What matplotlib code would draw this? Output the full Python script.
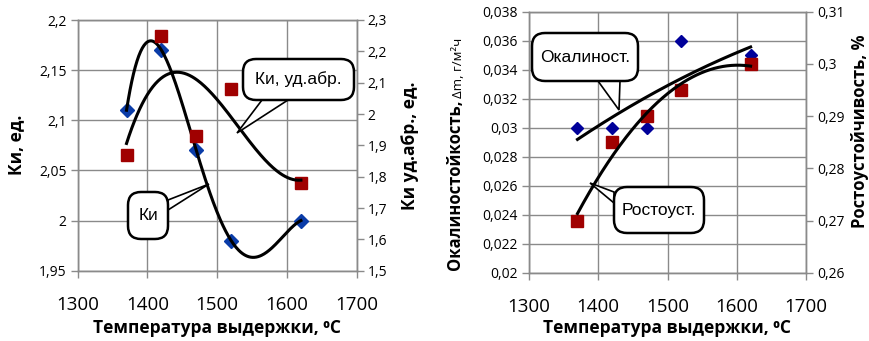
import numpy as np
import matplotlib
matplotlib.use('Agg')
import matplotlib.pyplot as plt
from matplotlib.patches import FancyBboxPatch, Polygon

plt.rcParams['font.family'] = ['Open Sans', 'DejaVu Sans']

# holding temperature, deg C
temp = [1370, 1420, 1470, 1520, 1620]

# left chart: Ki (left axis) and specific abrasive Ki (right axis)
ki = [2.11, 2.17, 2.07, 1.98, 2.00]
ki_abr = [1.87, 2.25, 1.93, 2.08, 1.78]

# right chart: scale resistance (left axis) and growth resistance (right axis)
scale_res = [0.030, 0.030, 0.030, 0.036, 0.035]
growth_res = [0.270, 0.285, 0.290, 0.295, 0.300]

W, H = 869, 341
BLUE = '#0a3ca8'
NAVY = '#00009a'
RED = '#a00000'
GRID = '#8a8a8a'

fig = plt.figure(figsize=(W / 100, H / 100), dpi=100)


def px(x, y):
    return x / W, 1 - y / H


def make_axes(x0, x1, ytop, ybot):
    l, t = px(x0, ytop)
    r, b = px(x1, ybot)
    ax = fig.add_axes([l, b, r - l, t - b])
    ax2 = ax.twinx()
    for a in (ax, ax2):
        for s in a.spines.values():
            s.set_color(GRID)
            s.set_linewidth(1.0)
        a.tick_params(direction='out', length=5, color=GRID, width=1)
    ax.tick_params(axis='y', labelsize=10, pad=3)
    ax2.tick_params(axis='y', labelsize=10, pad=3)
    ax.tick_params(axis='x', labelsize=13.5, pad=13)
    ax.grid(True, color=GRID, linewidth=1.0)
    ax.set_axisbelow(True)
    ax.set_xlim(1300, 1700)
    ax.set_xticks([1300, 1400, 1500, 1600, 1700])
    return ax, ax2


def comma(ndig):
    return matplotlib.ticker.FuncFormatter(
        lambda v, p: ('%.*f' % (ndig, v)).rstrip('0').rstrip('.').replace('.', ','))


def trend(x, y, deg, n=200):
    c = np.polyfit(x, y, deg)
    xs = np.linspace(min(x), max(x), n)
    return xs, np.polyval(c, xs)


def callout(box, base, tip, text, size=12.5):
    x0, y0, x1, y1 = box
    pts = [px(*tip), px(*base[0]), px(*base[1])]
    fig.patches.append(Polygon(pts, closed=True, transform=fig.transFigure,
                               facecolor='white', edgecolor='black', lw=1.2, zorder=5))
    l, t = px(x0, y0)
    r, b = px(x1, y1)
    fig.patches.append(FancyBboxPatch((l, b), r - l, t - b, transform=fig.transFigure,
                                      boxstyle='round,pad=0,rounding_size=0.015',
                                      mutation_aspect=W / H,
                                      facecolor='white', edgecolor='black', lw=1.8, zorder=6))
    cx, cy = px((x0 + x1) / 2, (y0 + y1) / 2)
    fig.text(cx, cy, text, ha='center', va='center', fontsize=size, zorder=7,
             family=['Liberation Sans', 'DejaVu Sans'])


# ---- left chart
ax, ax2 = make_axes(77.7, 356.7, 20, 270.7)
ax.set_ylim(1.95, 2.2)
ax.set_yticks(np.arange(1.95, 2.2001, 0.05))
ax.yaxis.set_major_formatter(comma(2))
ax2.set_ylim(1.5, 2.3)
ax2.set_yticks(np.arange(1.5, 2.3001, 0.1))
ax2.yaxis.set_major_formatter(comma(1))

ax.plot(temp, ki, 'D', color=BLUE, ms=7, zorder=3)
ax2.plot(temp, ki_abr, 's', color=RED, ms=8.5, zorder=3)
xs, ys = trend(temp, ki, 4)
ax.plot(xs, ys, color='black', lw=2.2, zorder=4)
xs, ys = trend(temp, ki_abr, 3)
ax2.plot(xs, ys, color='black', lw=2.2, zorder=4)

# ---- right chart
bx, bx2 = make_axes(529, 806, 11.7, 272.7)
bx.set_ylim(0.02, 0.038)
bx.set_yticks(np.arange(0.02, 0.03801, 0.002))
bx.yaxis.set_major_formatter(comma(3))
bx2.set_ylim(0.26, 0.31)
bx2.set_yticks(np.arange(0.26, 0.3101, 0.01))
bx2.yaxis.set_major_formatter(comma(2))

bx.plot(temp, scale_res, 'D', color=NAVY, ms=6.5, zorder=3)
bx2.plot(temp, growth_res, 's', color=RED, ms=8.5, zorder=3)
xs, ys = trend(temp, scale_res, 2)
bx.plot(xs, ys, color='black', lw=2.2, zorder=4)
xs, ys = trend(temp, growth_res, 2)
bx2.plot(xs, ys, color='black', lw=2.2, zorder=4)

# ---- axis titles
lab = dict(fontsize=12.5, fontweight='bold', ha='center', va='center')
fig.text(*px(217, 328), 'Температура выдержки, ⁰С', **lab)
fig.text(*px(667, 328), 'Температура выдержки, ⁰С', **lab)
fig.text(*px(16, 145), 'Ки, ед.', rotation=90, **lab)
fig.text(*px(410, 146), 'Ки уд.абр., ед.', rotation=90, **lab)
fig.text(*px(860, 131), 'Ростоустойчивость, %', rotation=90,
         **dict(lab, fontsize=12))
fig.text(*px(455, 270), 'Окалиностойкость,', rotation=90, rotation_mode='anchor',
         fontsize=12, fontweight='bold', ha='left', va='center')
fig.text(*px(459, 98), 'Δm, г/м²ч', rotation=90, rotation_mode='anchor',
         fontsize=9.5, ha='left', va='center')

# ---- callouts
callout((243, 59, 354, 100), [(262, 100), (288, 100)], (237, 133), 'Ки, уд.абр.')
callout((128, 192, 168, 239), [(168, 200), (168, 210)], (209, 184), 'Ки')
callout((532, 33, 638, 81), [(598, 81), (620, 81)], (619, 110), 'Окалиност.')
callout((614, 187, 704, 233), [(614, 192), (614, 203)], (590, 183), 'Ростоуст.')

fig.savefig('out.png', dpi=100)
